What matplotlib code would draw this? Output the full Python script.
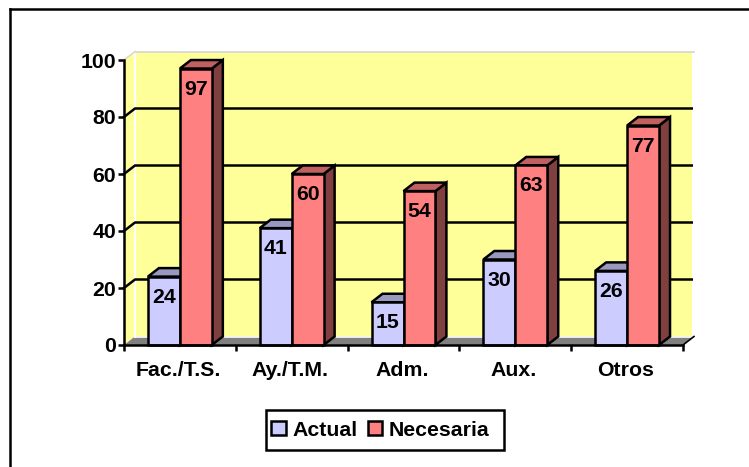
import matplotlib
matplotlib.use('Agg')
import matplotlib.pyplot as plt
from matplotlib.patches import Patch, Polygon, Rectangle

categorias = ['Fac./T.S.', 'Ay./T.M.', 'Adm.', 'Aux.', 'Otros']
actual = [24, 41, 15, 30, 26]
necesaria = [97, 60, 54, 63, 77]
y_ticks = [0, 20, 40, 60, 80, 100]

plt.rcParams['font.family'] = 'Liberation Sans'
plt.rcParams['font.weight'] = 'bold'
plt.rcParams['font.size'] = 15.3

W, H = 749, 467
LW = 1.8
fig = plt.figure(figsize=(W / 100, H / 100), dpi=100)
ax = fig.add_axes([124 / W, (H - 345) / H, 559 / W, 285 / H])
ax.set_xlim(-0.5, 4.5)
ax.set_ylim(0, 100)

# profundidad del efecto 3D, en unidades de datos
dx = 11 / 112
dy = 8.5 / 2.85
bar_w = 32 / 112


def poly(pts, color, lw=0.0, ec='none', z=1):
    ax.add_patch(Polygon(pts, closed=True, fc=color, ec=ec, lw=lw, clip_on=False, zorder=z))


x0, x1 = -0.5, 4.5
# paredes y suelo
poly([(x0, 0), (x0 + dx, dy), (x0 + dx, 100 + dy), (x0, 100)], '#ffff99')
poly([(x0 + dx, dy), (x1 + dx - 0.02, dy), (x1 + dx - 0.02, 100 + dy), (x0 + dx, 100 + dy)], '#ffff99')
poly([(x0, 0), (x1, 0), (x1 + dx, dy), (x0 + dx, dy)], '#808080', z=1.5)
ax.plot([x0 + dx, x0 + dx], [dy, 100 + dy], color='white', lw=1.5, clip_on=False, zorder=1.6)
ax.plot([x0 + dx, x1 + dx], [100 + dy, 100 + dy], color='#d4d4d4', lw=1.2, clip_on=False, zorder=1.6)
ax.plot([x0 + dx, x1 + dx], [dy, dy], color='white', lw=1.2, clip_on=False, zorder=1.6)

# rejilla
for v in y_ticks[1:-1]:
    ax.plot([x0, x0 + dx, x1 + dx - 0.02], [v, v + dy, v + dy], color='black', lw=LW, clip_on=False, zorder=1.8)
ax.plot([x0, x0 + dx], [100, 100 + dy], color='#d4d4d4', lw=1, clip_on=False, zorder=1.8)
ax.plot([x1, x1 + dx], [0, dy], color='black', lw=1.2, clip_on=False, zorder=1.8)


def barra(xc, val, front, top, side, z):
    xl, xr = xc, xc + bar_w
    poly([(xr, 0), (xr + dx, dy), (xr + dx, val + dy), (xr, val)], side, LW, 'black', z)
    poly([(xl, val), (xr, val), (xr + dx, val + dy), (xl + dx, val + dy)], top, LW, 'black', z)
    ax.add_patch(Rectangle((xl, 0), bar_w, val, fc=front, ec='black', lw=LW, clip_on=False, zorder=z + 0.1))


for i in range(len(categorias)):
    barra(i - bar_w, actual[i], '#ccccff', '#9999c0', '#666680', 3 + i)
    barra(i, necesaria[i], '#ff8080', '#c06060', '#804040', 3.3 + i)
    ax.text(i - bar_w / 2, actual[i] - 7.2, str(actual[i]), ha='center', va='center', zorder=20)
    ax.text(i + bar_w / 2, necesaria[i] - 7.2, str(necesaria[i]), ha='center', va='center', zorder=20)

ax.set_xticks([k - 0.5 for k in range(6)])
ax.set_xticklabels([])
for i, c in enumerate(categorias):
    ax.text(i - 0.012, -8.8, c, ha='center', va='center')
ax.set_yticks(y_ticks)
ax.tick_params(axis='both', direction='out', length=4, width=LW, pad=1.5)
ax.patch.set_visible(False)
for s in ['top', 'right']:
    ax.spines[s].set_visible(False)
for s in ['left', 'bottom']:
    ax.spines[s].set_linewidth(LW)
    ax.spines[s].set_zorder(30)

# marco de la leyenda aparte, el texto no queda centrado en el original
fig.add_artist(Rectangle((266 / W, (H - 450) / H), 238 / W, 40 / H, fc='white', ec='black', lw=LW,
                         transform=fig.transFigure))
handles = [Patch(fc='#ccccff', ec='black', lw=LW, label='Actual'),
           Patch(fc='#ff8080', ec='black', lw=LW, label='Necesaria')]
fig.legend(handles=handles, ncol=2, loc='center', bbox_to_anchor=(380.5 / W, (H - 430) / H),
           frameon=False, handlelength=0.68, handleheight=0.68,
           handletextpad=0.3, columnspacing=0.5, borderpad=0.45, borderaxespad=0)

# marco exterior
fig.add_artist(plt.Line2D([9.5 / W, 9.5 / W], [0, (H - 9) / H], color='black', lw=LW))
fig.add_artist(plt.Line2D([9.5 / W, 1], [(H - 9) / H, (H - 9) / H], color='black', lw=LW))

plt.savefig('out.png', dpi=100)
